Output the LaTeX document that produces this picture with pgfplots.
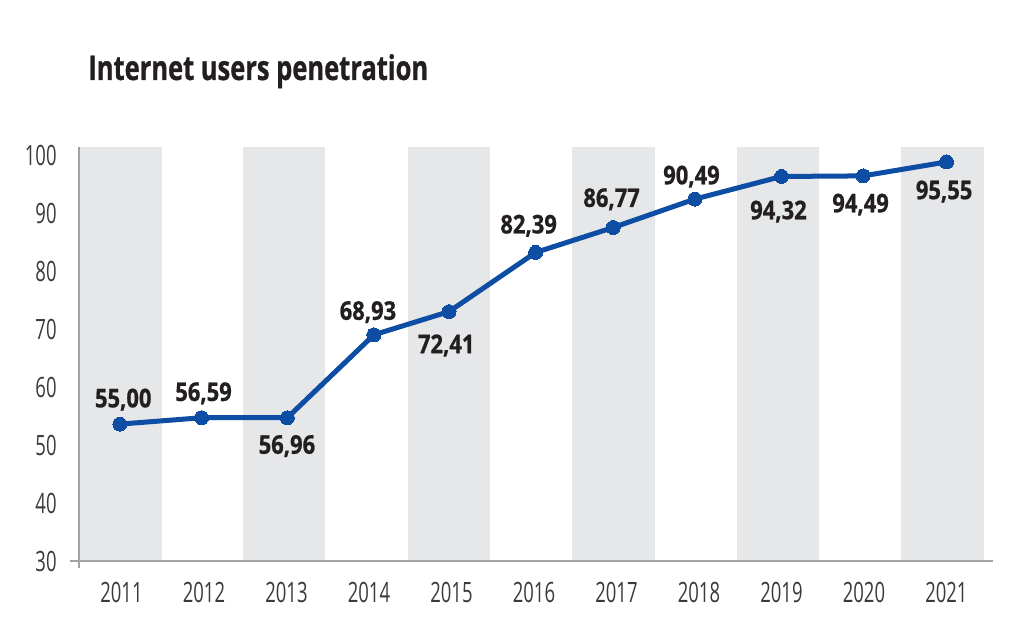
\documentclass[border=0pt]{standalone}
\usepackage{fontspec}
\usepackage{pgfplots}
\usepackage{pgfplotstable}
\pgfplotsset{compat=1.18}
\setmainfont{Open Sans}
\newfontfamily\tickfont{Open Sans}[FakeStretch=0.66]
\newfontfamily\labfont{Open Sans}[FakeStretch=0.85, BoldFeatures={FakeBold=0.8}]
\newfontfamily\titlefont{Open Sans}[FakeStretch=0.75, BoldFeatures={FakeBold=0.8}]

\definecolor{lineblue}{HTML}{0E4DA4}
\definecolor{bandgray}{HTML}{E6E7E9}
\definecolor{axisgray}{HTML}{A3A3A3}
\definecolor{ticktext}{HTML}{3A3A3A}
\definecolor{labtext}{HTML}{231F20}

% position as drawn, printed label, label offsets (pt)
\pgfplotstableread{
year    val   lab    dx    dy
2010.98 53.6  55,00  1.7   8.4
2011.97 54.7  56,59  1.0   8.4
2013.01 54.7  56,96  -0.2  -18.0
2014.06 69.0  68,93  -3.0  7.5
2014.97 73.0  72,41  -1.4  -20.8
2016.02 83.2  82,39  -3.5  9.5
2016.96 87.5  86,77  -0.8  10.3
2017.95 92.4  90,49  -1.7  7.4
2019.00 96.3  94,32  -1.5  -21.4
2019.99 96.4  94,49  -1.3  -18.2
2021.00 98.8  95,55  -1.2  -18.6
}\pendata

\begin{document}
\begin{tikzpicture}
\begin{axis}[
  set layers,
  at={(0,0)}, anchor=south west,
  x=41.25pt, y=2.9pt,
  xmin=2010.485, xmax=2021.56,
  ymin=30, ymax=101.4,
  axis x line=bottom, axis y line=left,
  axis line style={-, draw=axisgray, line width=0.9pt},
  x axis line style={shorten <=-4.5pt},
  y axis line style={shorten <=-3.5pt},
  xtick={2011,...,2021},
  ytick={30,40,...,100},
  major tick length=0pt,
  /pgf/number format/1000 sep={},
  /pgf/number format/assume math mode=true,
  tick label style={font=\tickfont\fontsize{14}{16}\selectfont, text=ticktext, inner sep=0pt},
  xticklabel style={anchor=north, yshift=-10.3pt},
  yticklabel style={anchor=east, xshift=-11pt},
  clip=false,
]
\begin{pgfonlayer}{axis background}
\fill[bandgray] (axis cs:2010.497,30) rectangle (axis cs:2011.491,101.4);
\fill[bandgray] (axis cs:2012.473,30) rectangle (axis cs:2013.467,101.4);
\fill[bandgray] (axis cs:2014.473,30) rectangle (axis cs:2015.467,101.4);
\fill[bandgray] (axis cs:2016.461,30) rectangle (axis cs:2017.467,101.4);
\fill[bandgray] (axis cs:2018.461,30) rectangle (axis cs:2019.455,101.4);
\fill[bandgray] (axis cs:2020.448,30) rectangle (axis cs:2021.455,101.4);
\end{pgfonlayer}
\addplot[
  lineblue, line width=2.5pt, mark=*, mark size=3.5pt,
  mark options={fill=lineblue, draw=lineblue, line width=0pt},
  point meta=explicit symbolic,
  visualization depends on={\thisrow{dx} \as \ldx},
  visualization depends on={\thisrow{dy} \as \ldy},
  nodes near coords,
  nodes near coords style={anchor=base, inner sep=0pt, xshift=\ldx pt, yshift=\ldy pt,
    font=\labfont\bfseries\fontsize{12.9}{14}\selectfont, text=labtext},
] table[x=year, y=val, meta=lab] {\pendata};
\end{axis}
\node[anchor=base west, inner sep=0pt, text=labtext,
  font=\titlefont\bfseries\fontsize{17}{20}\selectfont] at (4.5pt,240.5pt)
  {Internet users penetration};
\pgfresetboundingbox
\path[use as bounding box] (-39.5pt,-36pt) rectangle (476.5pt,280.5pt);
\end{tikzpicture}
\end{document}
